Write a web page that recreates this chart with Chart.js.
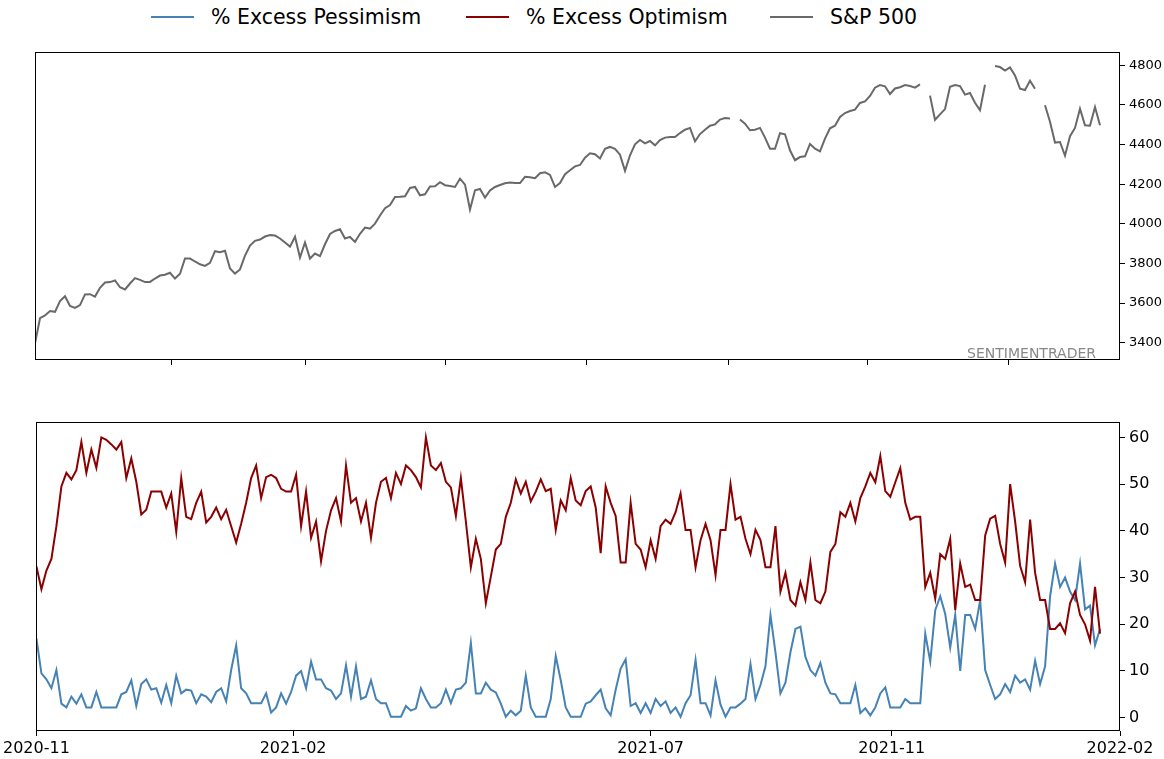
<!DOCTYPE html>
<html><head><meta charset="utf-8">
<script src="https://cdn.jsdelivr.net/npm/chart.js@4.4.0/dist/chart.umd.min.js"></script>
<style>
html,body{margin:0;padding:0;background:#fff;width:1164px;height:759px;overflow:hidden;font-family:"DejaVu Sans",sans-serif;}
#legend{position:absolute;left:0;top:0;width:1164px;height:36px;}
.item{position:absolute;top:4px;height:26px;display:flex;align-items:center;font-size:20.5px;color:#000;white-space:nowrap;font-family:"DejaVu Sans",sans-serif;}
.sw{display:inline-block;width:43px;height:2px;margin-right:17px}
#c1{position:absolute;left:0;top:40px}
#c2{position:absolute;left:0;top:400px}
</style></head>
<body>
<div id="legend">
  <div class="item" style="left:151px"><span class="sw" style="background:#4682B4"></span>% Excess Pessimism</div>
  <div class="item" style="left:466px"><span class="sw" style="background:#8B0000"></span>% Excess Optimism</div>
  <div class="item" style="left:770px"><span class="sw" style="background:#696969"></span>S&amp;P 500</div>
</div>
<canvas id="c1" width="1164" height="340"></canvas>
<canvas id="c2" width="1164" height="359"></canvas>
<script>
// ---- data (one value per trading-day step) ----
const sp500 = [
3397,3524,3538,3560,3556,3610,3635,3586,3576,3590,
3644,3645,3633,3677,3704,3706,3714,3680,3669,3699,
3726,3717,3706,3707,3724,3739,3743,3753,3724,3748,
3825,3825,3810,3796,3788,3803,3862,3857,3864,3775,
3749,3770,3840,3890,3914,3921,3936,3943,3941,3926,
3906,3885,3935,3830,3906,3825,3850,3837,3897,3949,
3964,3973,3926,3934,3909,3950,3981,3976,4001,4042,
4079,4095,4136,4137,4139,4181,4186,4144,4149,4188,
4190,4210,4195,4191,4186,4228,4198,4072,4169,4176,
4132,4168,4186,4196,4205,4208,4206,4206,4237,4235,
4230,4255,4260,4247,4186,4206,4250,4270,4290,4297,
4334,4356,4351,4330,4379,4388,4378,4349,4267,4346,
4401,4423,4406,4418,4396,4423,4435,4438,4438,4458,
4475,4484,4416,4453,4475,4495,4502,4526,4534,4532,
null,4527,4505,4472,4475,4484,4435,4379,4379,4457,
4452,4371,4321,4337,4341,4403,4379,4366,4430,4482,
4495,4539,4559,4569,4576,4610,4618,4645,4687,4700,
4694,4655,4683,4689,4700,4695,4687,4704,null,4647,
4525,4552,4579,4692,4700,4695,4652,4660,4611,4573,
4702,null,4796,4791,4773,4789,4749,4682,4675,4722,
4682,null,4598,4515,4410,4413,4344,4442,4484,4581,
4497,4495,4589,4497
];
const optimism = [
32.4,27.5,31.5,34,41,49.5,52.4,51,53,59,52.4,57.4,53.5,60,59.5,58.5,57.4,59,51.3,55.5,50.5,43.5,44.5,48.4,48.4,48.4,45,48,39.8,51.3,43,42.5,46,48.4,41.8,43,45,42.5,44.5,41,37.5,41.5,46,51.3,
54,47,51.5,52,51.3,49,48.4,48.4,52,41,48.4,38.5,42,33.5,40,44.4,47,42,54,46,47,42,46,38.5,46,50.5,51.3,47,52.4,50,54,53,51.5,49.3,60,54,53,54.5,50.5,49.3,43.2,51.3,42,32.2,
38.3,34,24.5,30.2,36,37.2,43,46,51,48,50.5,46.3,48.4,51,48.5,49,40.2,46.5,44.4,51.3,46.5,45.5,48.5,49.5,45,35.2,49.5,46,43.2,33.2,33.2,46,37.2,36,32.2,38,34,41,42.4,41.5,44,48,40.2,
40.2,32.2,38,41.5,38,30.5,40.2,40.2,50,42.4,43,38.3,35,40.2,38,32.2,32.2,41,27,31,25.2,24,29,25.2,33.2,25.2,24.5,27,35.5,37.2,44,43,46,42,47,49.5,52.4,50.4,56,48.5,47.3,50.4,53.4,
46,42.4,43,43,28,31,25.5,35,34,38.3,23,33,28,28.5,25.2,25.2,39,42.6,43.2,37.2,33.2,50,42,32.5,29,42.4,31,25.2,25.2,19,19,20.2,18.1,24.5,27,22,20,16.5,28,18
];
const pessimism = [
17,9.5,8.2,6.3,10.2,3,2.2,4.5,3,5,2.2,2.2,5.5,2.2,2.2,2.2,2.2,5,5.5,8,2.5,7.2,8.2,6,6.3,3.2,7,3.1,9,5.2,6,5.8,3.1,5,4.5,3.3,5.5,6.3,3.5,10.2,15.5,6.3,5.2,3.1,
3.1,3.1,5.2,1.1,2.2,5.2,3,5.5,9,10,6.3,12,8.2,8.2,6.3,5.8,4,5.2,11.2,4.5,11,4,4.5,8,4,3.1,3.1,0.2,0.2,0.2,2.5,1.5,2,6.3,4,2.2,2.2,3.1,6,3.1,6,6.3,7.5,16,
5.2,5.2,7.5,6,5.4,3,0.2,1.5,0.5,1.5,9,2.2,0.2,0.2,0.2,4,13.2,8,2.2,0.2,0.2,0.2,3,3.5,4.8,6,2,0.5,6,10.5,12.5,2.5,3.1,1,3.1,1,4,2.5,3.5,1,2.2,0.2,3.1,
4.8,12.4,3.1,3.1,0.5,8,2.8,0.2,2.2,2.2,3,4,11.5,4,7,11,22,14,5.2,7.5,14,19,19.5,13,10.2,9,11.7,7.5,5.2,5,3.1,3.1,3.1,7,1,2,0.5,2.2,5.2,6.5,2.2,2.2,2.2,
4,3.1,3.1,3.1,18,12,23,26,22.2,15,22,10,22,22,19,25.2,10.2,7,4,5,7.2,5.5,9,7.5,8.2,6,12.2,7.2,11,26,33,28,30,27,25.2,33,23.2,24,15.5,19
];
const xTickLabels = ['2020-11','2021-02','2021-07','2021-11','2022-02'];
const xTickPos = [0, 51.4, 123, 171.3, 217];
const topTickPos = [27.2, 54.1, 82.1, 110.2, 138.6, 166.5, 194.6];
const spTicks = [3400,3600,3800,4000,4200,4400,4600,4800];
const pctTicks = [0,10,20,30,40,50,60];

const toXY = arr => arr.map((v,i)=>({x:i,y:v}));
const FONT = '"DejaVu Sans", sans-serif';

const frame = {id:'frame', afterDatasetsDraw(chart){
  const {ctx, chartArea:a} = chart;
  ctx.save(); ctx.strokeStyle='#000'; ctx.lineWidth=1;
  ctx.strokeRect(Math.round(a.left)+0.5, Math.round(a.top)+0.5, Math.round(a.right-a.left)-1, Math.round(a.bottom-a.top)-1);
  ctx.restore();
}};
const watermark = {id:'wm', afterDatasetsDraw(chart){
  const {ctx, chartArea:a} = chart;
  ctx.save(); ctx.fillStyle='#888'; ctx.font='14px '+FONT; ctx.textAlign='right'; ctx.textBaseline='alphabetic';
  ctx.fillText('SENTIMENTRADER', a.right-24, a.bottom-2);
  ctx.restore();
}};

const baseY = (min,max,ticks,size)=>({
  type:'linear', position:'right', min:min, max:max,
  afterBuildTicks: s => { s.ticks = ticks.map(v=>({value:v})); },
  afterFit: s => { s.width = 44; },
  grid:{drawOnChartArea:false, drawTicks:true, tickLength:5, tickColor:'#000', tickWidth:1},
  border:{display:false},
  ticks:{color:'#000', font:{family:FONT, size:size}, padding:4, callback:v=>String(v)}
});

new Chart(document.getElementById('c1'), {
  type:'line',
  data:{datasets:[{label:'S&P 500', data:toXY(sp500), borderColor:'#696969', borderWidth:2, pointRadius:0, tension:0, spanGaps:false}]},
  options:{
    responsive:false, animation:false, devicePixelRatio:1,
    layout:{padding:{left:35, top:12, right:0, bottom:0}},
    plugins:{legend:{display:false}, tooltip:{enabled:false}},
    scales:{
      x:{type:'linear', min:0, max:217,
        afterBuildTicks: s => { s.ticks = topTickPos.map(v=>({value:v})); },
        afterFit: s => { s.height = 20; },
        grid:{drawOnChartArea:false, tickLength:5, tickColor:'#000'},
        border:{display:false},
        ticks:{callback:()=>'', autoSkip:false, maxRotation:0}},
      y: baseY(3313, 4867, spTicks, 13)
    }
  },
  plugins:[frame, watermark]
});

new Chart(document.getElementById('c2'), {
  type:'line',
  data:{datasets:[
    {label:'% Excess Pessimism', data:toXY(pessimism), borderColor:'#4682B4', borderWidth:2, pointRadius:0, tension:0, order:1},
    {label:'% Excess Optimism', data:toXY(optimism), borderColor:'#8B0000', borderWidth:2, pointRadius:0, tension:0, order:0}
  ]},
  options:{
    responsive:false, animation:false, devicePixelRatio:1,
    layout:{padding:{left:35, top:22, right:0, bottom:0}},
    plugins:{legend:{display:false}, tooltip:{enabled:false}},
    scales:{
      x:{type:'linear', min:0, max:217,
        afterBuildTicks: s => { s.ticks = xTickPos.map(v=>({value:v})); },
        afterFit: s => { s.height = 28; },
        grid:{drawOnChartArea:false, tickLength:5, tickColor:'#000'},
        border:{display:false},
        ticks:{callback:(v,i)=>xTickLabels[i], autoSkip:false, maxRotation:0, minRotation:0, color:'#000', font:{family:FONT, size:16}, padding:3}},
      y: baseY(-2.85, 63.3, pctTicks, 16)
    }
  },
  plugins:[frame]
});
</script>
</body></html>
